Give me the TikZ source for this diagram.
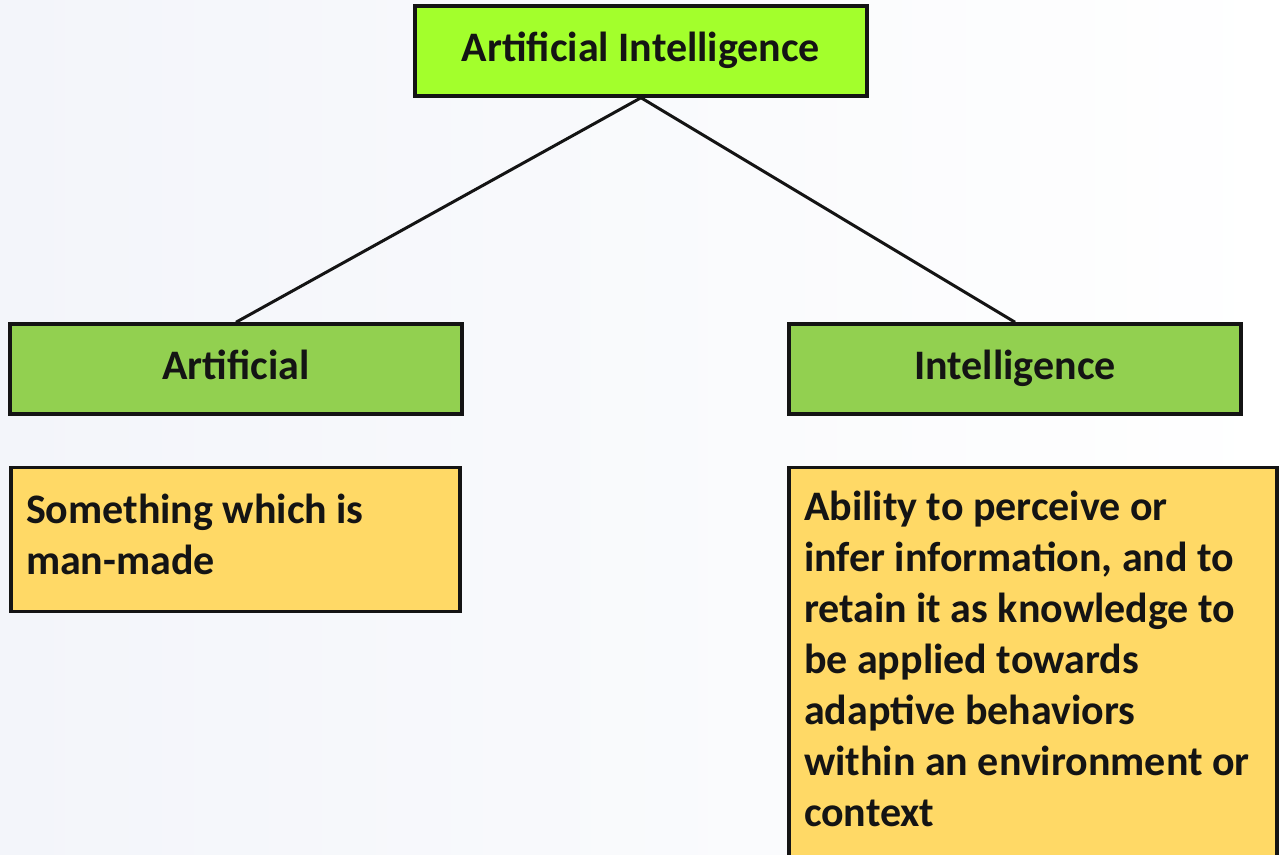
\documentclass[tikz,border=0pt]{standalone}
\usepackage{fontspec}
\setmainfont{Carlito}
\usetikzlibrary{positioning}

\definecolor{limegreen}{HTML}{A3FF2C}
\definecolor{leafgreen}{HTML}{92D050}
\definecolor{notegold}{HTML}{FFD966}
\definecolor{inkblack}{HTML}{141414}
\definecolor{paleblue}{HTML}{F3F5FA}

\begin{document}
\begin{tikzpicture}[x=1pt,y=1pt,
  font=\fontsize{42}{51}\selectfont\bfseries,
  level distance=318pt, sibling distance=779pt,
  box/.style={rectangle,draw=inkblack,line width=3.5pt,text=inkblack},
  topbox/.style={box,fill=limegreen,minimum width=452pt,minimum height=90pt,
    text height=30pt,text depth=9pt},
  greenbox/.style={box,fill=leafgreen,minimum width=452pt,minimum height=90pt,
    text height=30pt,text depth=9pt},
  notebox/.style={box,fill=notegold,align=flush left,inner xsep=15pt,inner ysep=24pt},
  edge from parent/.style={draw=inkblack,line width=3pt},
  edge from parent path={(\tikzparentnode.south) -- (\tikzchildnode.north)}]

\path[use as bounding box,clip] (0,0) rectangle (1287,-854);
\fill[left color=paleblue,right color=white] (0,0) rectangle (1287,-854);

% the term and its two halves
\node [topbox] (ai) at (641,-51) {Artificial Intelligence}
  child {node [greenbox,xshift=-15.5pt] (art) {Artificial}}
  child {node [greenbox,xshift=-15.5pt] (intel) {Intelligence}};

% what each half means
\node [notebox,text width=419pt,text depth=62pt,minimum height=144pt,
       below right=50pt and 1pt of art.south west] (artnote)
  {Something which is\\man-made};
\node [notebox,text width=458pt,text depth=340pt,
       below right=50pt and 0pt of intel.south west] (intelnote)
  {Ability to perceive or\\infer information, and to\\retain it as knowledge to\\be applied towards\\adaptive behaviors\\within an environment or\\context};
\end{tikzpicture}
\end{document}
